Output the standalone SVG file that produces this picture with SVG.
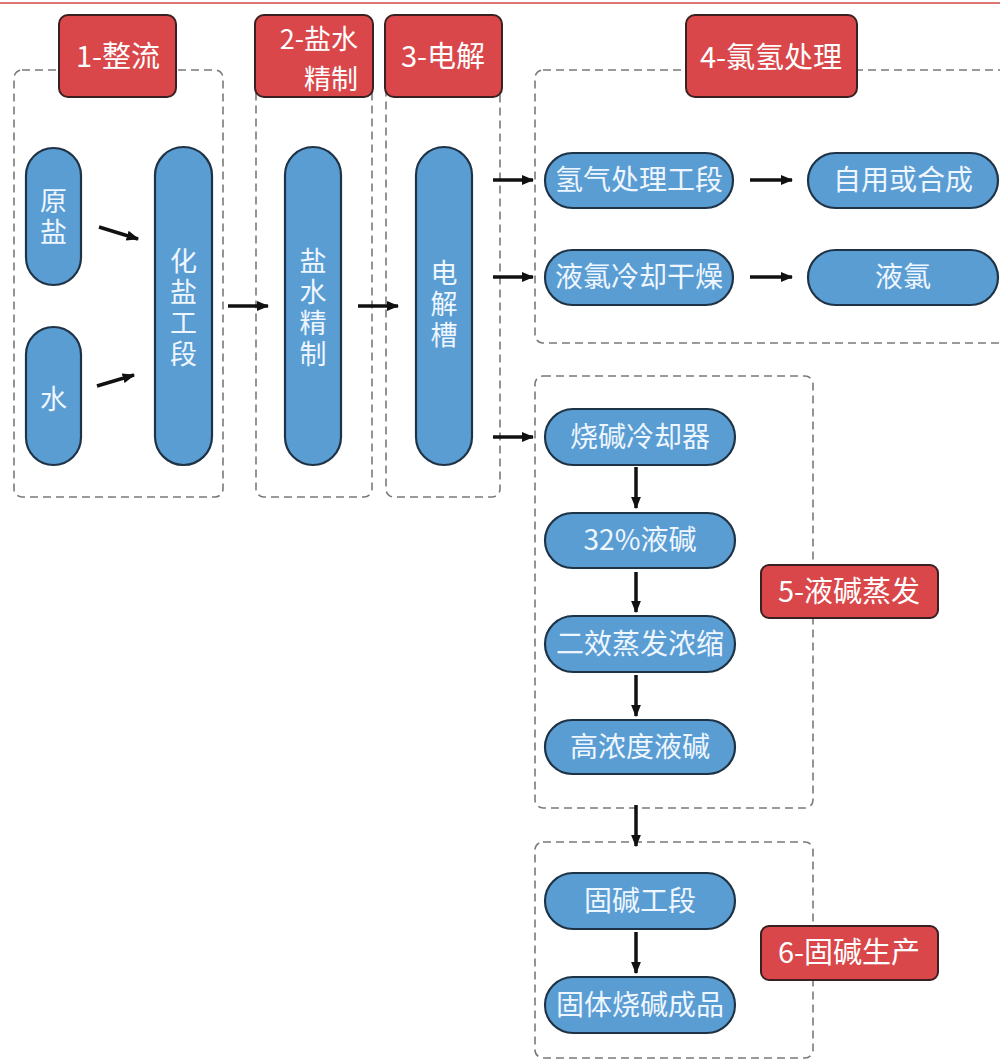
<svg xmlns="http://www.w3.org/2000/svg" width="1000" height="1061" viewBox="0 0 1000 1061">
<style>
.frame{fill:none;stroke:#7a7a7a;stroke-width:1.6;stroke-dasharray:8 5}
.lab{fill:#d9474a;stroke:#3a2020;stroke-width:2}
.labt{fill:#ffffff;font-family:"Noto Sans CJK SC","Noto Sans",sans-serif;font-size:29px;text-anchor:middle}
.node{fill:#5a9dd3;stroke:#1f3346;stroke-width:2.2}
.nt{fill:#eef6ff;font-family:"Noto Sans CJK SC","Noto Sans",sans-serif;font-size:28px;text-anchor:middle}
.vt{fill:#eef6ff;font-family:"Noto Sans CJK SC","Noto Sans",sans-serif;font-size:27px;text-anchor:middle;writing-mode:vertical-rl;letter-spacing:4px}
.arr{stroke:#111;stroke-width:3.5;fill:none;marker-end:url(#ah)}
</style>
<defs>
<marker id="ah" viewBox="0 0 10 10" refX="9" refY="5" markerWidth="3.6" markerHeight="3.6" orient="auto" markerUnits="strokeWidth">
<path d="M0,1 L10,5 L0,9 Z" fill="#111"/>
</marker>
</defs>
<rect width="1000" height="1061" fill="#ffffff"/>
<line x1="0" y1="3" x2="1000" y2="3" stroke="#d04848" stroke-width="1.5"/>

<g id="frames">
<rect class="frame" x="14" y="70" width="209" height="427" rx="8"/>
<rect class="frame" x="256" y="80" width="116" height="417" rx="8"/>
<rect class="frame" x="386" y="80" width="114" height="417" rx="8"/>
<rect class="frame" x="535" y="70" width="480" height="273" rx="8"/>
<rect class="frame" x="535" y="376" width="278" height="432" rx="8"/>
<rect class="frame" x="535" y="842" width="278" height="216" rx="8"/>
</g>

<g id="label1"><rect class="lab" x="59" y="15" width="117" height="82" rx="9"/><text class="labt" x="118" y="67">1-整流</text></g>
<g id="label2"><rect class="lab" x="255" y="15" width="118" height="82" rx="9"/><text class="labt" style="text-anchor:end;font-size:27px"><tspan x="358" y="49">2-盐水</tspan><tspan x="358" y="89">精制</tspan></text></g>
<g id="label3"><rect class="lab" x="385" y="15" width="117" height="82" rx="9"/><text class="labt" x="443" y="67">3-电解</text></g>
<g id="label4"><rect class="lab" x="686" y="15" width="171" height="82" rx="9"/><text class="labt" x="771" y="68">4-氯氢处理</text></g>
<g id="label5"><rect class="lab" x="761" y="565" width="177" height="53" rx="8"/><text class="labt" x="849" y="602">5-液碱蒸发</text></g>
<g id="label6"><rect class="lab" x="761" y="926" width="177" height="54" rx="8"/><text class="labt" x="849" y="963">6-固碱生产</text></g>

<g id="n-yuanyan"><rect class="node" x="26" y="148" width="55" height="137" rx="27.5"/>
<text class="vt" x="53.5" y="218">原盐</text></g>
<g id="n-shui"><rect class="node" x="26" y="327" width="55" height="138" rx="27.5"/>
<text class="vt" x="53.5" y="401">水</text></g>
<g id="n-huayan"><rect class="node" x="155" y="147" width="57" height="318" rx="28.5"/>
<text class="vt" x="183.5" y="309">化盐工段</text></g>
<g id="n-yanshui"><rect class="node" x="285" y="147" width="56" height="318" rx="28"/>
<text class="vt" x="313" y="309">盐水精制</text></g>
<g id="n-dianjie"><rect class="node" x="416" y="147" width="56" height="318" rx="28"/>
<text class="vt" x="444" y="306">电解槽</text></g>

<g id="n-qingqi"><rect class="node" x="545" y="153" width="188" height="55" rx="27.5"/><text class="nt" x="639" y="190">氢气处理工段</text></g>
<g id="n-ziyong"><rect class="node" x="808" y="153" width="190" height="55" rx="27.5"/><text class="nt" x="903" y="190">自用或合成</text></g>
<g id="n-lengque"><rect class="node" x="545" y="250" width="188" height="55" rx="27.5"/><text class="nt" x="639" y="287">液氯冷却干燥</text></g>
<g id="n-yelv"><rect class="node" x="808" y="250" width="190" height="55" rx="27.5"/><text class="nt" x="903" y="287">液氯</text></g>

<g id="n-shaojian"><rect class="node" x="545" y="409" width="190" height="56" rx="28"/><text class="nt" x="640" y="447">烧碱冷却器</text></g>
<g id="n-32"><rect class="node" x="545" y="513" width="190" height="55" rx="27.5"/><text class="nt" x="640" y="550">32%液碱</text></g>
<g id="n-erxiao"><rect class="node" x="545" y="616" width="190" height="56" rx="28"/><text class="nt" x="640" y="654">二效蒸发浓缩</text></g>
<g id="n-gaonong"><rect class="node" x="545" y="720" width="190" height="54" rx="27"/><text class="nt" x="640" y="757">高浓度液碱</text></g>
<g id="n-gujian"><rect class="node" x="545" y="873" width="190" height="56" rx="28"/><text class="nt" x="640" y="911">固碱工段</text></g>
<g id="n-guti"><rect class="node" x="545" y="977" width="190" height="56" rx="28"/><text class="nt" x="640" y="1015">固体烧碱成品</text></g>

<g id="connectors">
<line class="arr" x1="99" y1="227" x2="138" y2="239"/>
<line class="arr" x1="97" y1="386" x2="134" y2="375"/>
<line class="arr" x1="228" y1="306" x2="268" y2="306"/>
<line class="arr" x1="358" y1="306" x2="398" y2="306"/>
<line class="arr" x1="493" y1="180" x2="533" y2="180"/>
<line class="arr" x1="493" y1="277" x2="533" y2="277"/>
<line class="arr" x1="493" y1="437" x2="533" y2="437"/>
<line class="arr" x1="750" y1="180" x2="792" y2="180"/>
<line class="arr" x1="750" y1="277" x2="792" y2="277"/>
<line class="arr" x1="636" y1="467" x2="636" y2="508"/>
<line class="arr" x1="636" y1="572" x2="636" y2="612"/>
<line class="arr" x1="636" y1="675" x2="636" y2="716"/>
<line class="arr" x1="636" y1="805" x2="636" y2="846"/>
<line class="arr" x1="636" y1="932" x2="636" y2="973"/>
</g>
</svg>
